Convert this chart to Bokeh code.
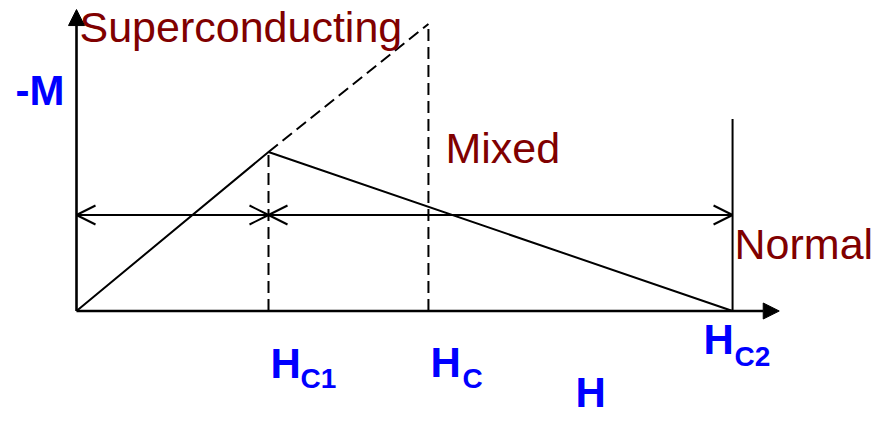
from bokeh.plotting import figure
from bokeh.models import Arrow, NormalHead, OpenHead, Range1d
from bokeh.core.properties import value
from bokeh.embed import file_html
from bokeh.resources import INLINE

# ---- data (field H and magnetisation -M, arbitrary units) ----
field_names = ["H_C1", "H_C", "H_C2"]
field_values = [1.0, 1.833, 3.417]          # H_C1, H_C, H_C2
mixed_curve_h = [0.0, 1.0, 3.417]            # solid -M(H) curve
mixed_curve_m = [0.0, 0.828, 0.0]
ideal_curve_h = [1.0, 1.833]                 # dashed continuation up to H_C
ideal_curve_m = [0.828, 1.495]
normal_line_top = 1.0                        # height of the vertical line at H_C2
region_arrow_level = 0.5                     # level of the double arrows
axis_h_max = 3.66
axis_m_max = 1.57

H_C1, H_C, H_C2 = field_values
M_C1 = mixed_curve_m[1]
M_C = ideal_curve_m[1]

# ---- layout ----
W, HGT = 876, 417
PX = 192.0                 # pixels per unit on both axes
OX, OY = 76.0, 310.5       # origin inside the canvas (px)

p = figure(width=W, height=HGT,
           x_range=Range1d(-OX / PX, (W - OX) / PX),
           y_range=Range1d(-(HGT - OY) / PX, OY / PX),
           output_backend="svg", toolbar_location=None, min_border=0,
           x_axis_location=None, y_axis_location=None)
p.xgrid.visible = False
p.ygrid.visible = False
p.outline_line_color = None
p.background_fill_color = "white"
p.border_fill_color = "white"

def d(px):
    return px / PX

BLACK = "black"
DARKRED = "#800000"
BLUE = "#0000FF"
FONT = value("Liberation Sans")
DASH = "12 6"

# axes with arrows
p.add_layout(Arrow(end=NormalHead(size=16, fill_color=BLACK, line_color=BLACK, line_width=1),
                   x_start=0, y_start=0, x_end=axis_h_max, y_end=0,
                   line_width=2.6, line_color=BLACK))
p.add_layout(Arrow(end=NormalHead(size=16, fill_color=BLACK, line_color=BLACK, line_width=1),
                   x_start=0, y_start=0, x_end=0, y_end=axis_m_max,
                   line_width=2.6, line_color=BLACK))

# curves
p.line(mixed_curve_h, mixed_curve_m, line_width=2, line_color=BLACK)
p.line(ideal_curve_h, ideal_curve_m, line_width=2, line_color=BLACK, line_dash=DASH)
p.segment(x0=[H_C1, H_C], y0=[0, 0], x1=[H_C1, H_C], y1=[M_C1, M_C],
          line_width=2, line_color=BLACK, line_dash=DASH)
p.segment(x0=[H_C2], y0=[0], x1=[H_C2], y1=[normal_line_top],
          line_width=2, line_color=BLACK)

# region arrows
for xs, xe in [(0.0, H_C1), (H_C1, H_C2)]:
    p.add_layout(Arrow(start=OpenHead(size=19, line_width=2, line_color=BLACK),
                       end=OpenHead(size=19, line_width=2, line_color=BLACK),
                       x_start=xs, y_start=region_arrow_level,
                       x_end=xe, y_end=region_arrow_level,
                       line_width=2, line_color=BLACK))

# region labels
p.text(x=[d(3)], y=[d(284.5)], text=["Superconducting"], text_font=FONT,
       text_font_size="43px", text_color=DARKRED, text_baseline="alphabetic")
p.text(x=[H_C + d(17)], y=[d(163.5)], text=["Mixed"], text_font=FONT,
       text_font_size="43px", text_color=DARKRED, text_baseline="alphabetic")
p.text(x=[H_C2 + d(2)], y=[d(67.5)], text=["Normal"], text_font=FONT,
       text_font_size="43px", text_color=DARKRED, text_baseline="alphabetic")

# axis labels
p.text(x=[d(-61)], y=[d(220.5)], text=["-M"], text_font=FONT, text_font_style="bold",
       text_font_size="42px", text_color=BLUE, text_baseline="alphabetic")
p.text(x=[d(499)], y=[d(-81.5)], text=["H"], text_font=FONT, text_font_style="bold",
       text_font_size="42px", text_color=BLUE, text_baseline="alphabetic")

# critical field labels: main "H" and subscript
main_dx = [d(2), d(2), d(-29)]
main_dy = [d(-52.5), d(-51.5), d(-28.5)]
sub_dx = [d(32), d(34), d(2)]
sub_dy = [d(-67.5), d(-67.5), d(-45.5)]
subs = [n.split("_")[1] for n in field_names]
p.text(x=[h + dx for h, dx in zip(field_values, main_dx)], y=main_dy,
       text=["H"] * 3, text_font=FONT, text_font_style="bold",
       text_font_size="42px", text_color=BLUE, text_baseline="alphabetic")
p.text(x=[h + dx for h, dx in zip(field_values, sub_dx)], y=sub_dy,
       text=subs, text_font=FONT, text_font_style="bold",
       text_font_size="28px", text_color=BLUE, text_baseline="alphabetic")

open("out.html", "w").write(file_html(p, INLINE))
